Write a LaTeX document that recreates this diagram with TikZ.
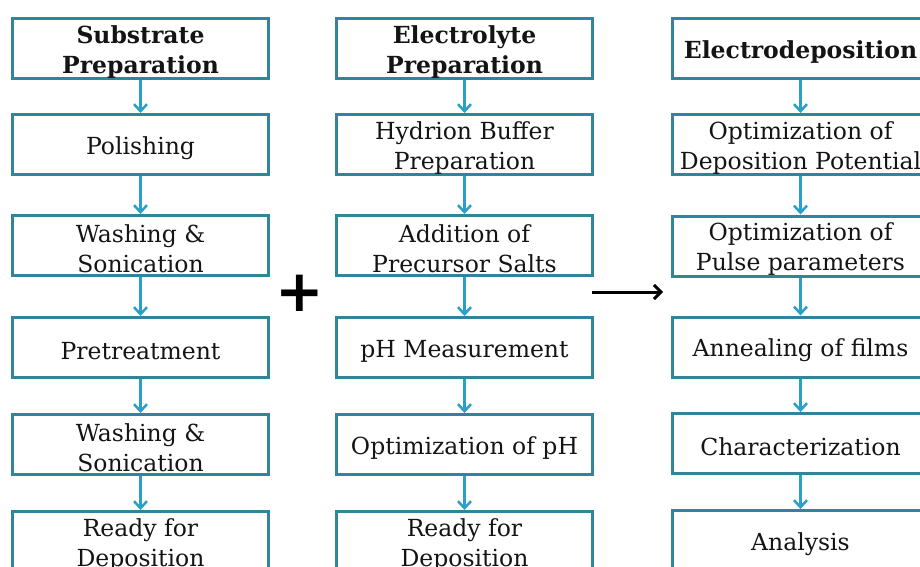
\documentclass[tikz,border=0pt]{standalone}
\usepackage{fontspec}
\setmainfont{DejaVu Serif}
\newfontfamily\plusfont{DejaVu Sans}
\usetikzlibrary{arrows.meta}
\definecolor{boxteal}{RGB}{49,133,155}
\definecolor{arrblue}{RGB}{40,160,200}
\definecolor{txt}{RGB}{20,20,20}
\begin{document}
\begin{tikzpicture}[x=1pt,y=-1pt,
  stepbox/.style={draw=boxteal, line width=3pt, minimum width=256pt, minimum height=60pt,
    inner sep=0pt},
  boxtext/.style={inner sep=0pt, align=center, text=txt, yshift=-3.5pt,
    font=\fontsize{23.5}{30}\selectfont},
  headtext/.style={boxtext, font=\fontsize{23.5}{30}\selectfont\bfseries},
  flow/.style={draw=arrblue, line width=2.5pt,
    -{Straight Barb[length=7pt,width=13pt,line width=2.5pt]}},
  joinarrow/.style={draw=black, line width=3pt,
    -{Straight Barb[length=7pt,width=14pt,line width=3pt]}}]
\useasboundingbox (0,0) rectangle (920,566);
\clip (0,0) rectangle (920,566);
% column 1
\node[stepbox, label={[headtext]center:{Substrate\\Preparation}}] (a0) at (140.5,48.5) {};
\node[stepbox, label={[boxtext]center:{Polishing}}] (a1) at (140.5,144.5) {};
\node[stepbox, label={[boxtext]center:{Washing \&\\Sonication}}] (a2) at (140.5,245.5) {};
\node[stepbox, label={[boxtext]center:{Pretreatment}}] (a3) at (140.5,347.5) {};
\node[stepbox, label={[boxtext]center:{Washing \&\\Sonication}}] (a4) at (140.5,444.5) {};
\node[stepbox, label={[boxtext]center:{Ready for\\Deposition}}] (a5) at (140.5,541.5) {};
% column 2
\node[stepbox, label={[headtext]center:{Electrolyte\\Preparation}}] (b0) at (464.5,48.5) {};
\node[stepbox, label={[boxtext]center:{Hydrion Buffer\\Preparation}}] (b1) at (464.5,144.5) {};
\node[stepbox, label={[boxtext]center:{Addition of\\Precursor Salts}}] (b2) at (464.5,245.5) {};
\node[stepbox, label={[boxtext]center:{pH Measurement}}] (b3) at (464.5,347.5) {};
\node[stepbox, label={[boxtext]center:{Optimization of pH}}] (b4) at (464.5,444.5) {};
\node[stepbox, label={[boxtext]center:{Ready for\\Deposition}}] (b5) at (464.5,541.5) {};
% column 3
\node[stepbox, label={[headtext]center:{Electrodeposition}}] (c0) at (800.5,48.5) {};
\node[stepbox, label={[boxtext]center:{Optimization of\\Deposition Potential}}] (c1) at (800.5,144.5) {};
\node[stepbox, label={[boxtext]center:{Optimization of\\Pulse parameters}}] (c2) at (800.5,246) {};
\node[stepbox, label={[boxtext]center:{Annealing of films}}] (c3) at (800.5,347) {};
\node[stepbox, label={[boxtext]center:{Characterization}}] (c4) at (800.5,443.5) {};
\node[stepbox, label={[boxtext]center:{Analysis}}] (c5) at (800.5,540.5) {};
% flow arrows
\foreach \c in {a,b,c}{
  \draw[flow] (\c0) -- (\c1);
  \draw[flow] (\c1) -- (\c2);
  \draw[flow] (\c2) -- (\c3);
  \draw[flow] (\c3) -- (\c4);
  \draw[flow] (\c4) -- (\c5);
}
% plus and join arrow
\node[font=\plusfont\bfseries\fontsize{58}{58}\selectfont, inner sep=0pt] (plus) at (300,293) {+};
\coordinate (j1) at (592,292);
\coordinate (j2) at (663,292);
\draw[joinarrow] (j1) -- (j2);
\end{tikzpicture}
\end{document}
